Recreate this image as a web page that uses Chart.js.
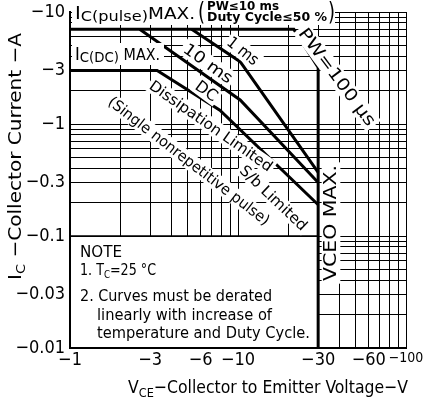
<!DOCTYPE html>
<html>
<head>
<meta charset="utf-8">
<script src="https://cdn.jsdelivr.net/npm/chart.js@4/dist/chart.umd.min.js"></script>
<style>
  html, body { margin: 0; padding: 0; background: #fff; }
  canvas { display: block; }
</style>
</head>
<body>
<canvas id="soa" width="423" height="401"></canvas>
<script>
// Safe operating area.
// Magnitudes are plotted, the axes print them with a minus sign.
const voltTicks = [1, 2, 3, 4, 5, 6, 7, 8, 9, 10, 20, 30, 40, 50, 60, 70, 80, 90, 100];
const voltLabels = [1, 3, 6, 10, 30, 60, 100];
const ampTicks = [0.01, 0.02, 0.03, 0.04, 0.05, 0.06, 0.07, 0.08, 0.09,
                  0.1, 0.2, 0.3, 0.4, 0.5, 0.6, 0.7, 0.8, 0.9,
                  1, 2, 3, 4, 5, 6, 7, 8, 9, 10];
const ampLabels = [0.01, 0.03, 0.1, 0.3, 1, 3, 10];

// IC(pulse) max, PW=100us and VCEO max as one outline
const pw100V = [1, 21.5, 30, 30];
const pw100A = [7, 7, 3.2, 0.01];
const ms1V = [5.3, 10.3, 30];
const ms1A = [7, 3.6, 0.37];
const ms10V = [2.6, 10.3, 30];
const ms10A = [7, 1.64, 0.3];
// IC(DC) max then DC curve
const dcV = [1, 3.3, 7.8, 30];
const dcA = [3, 3, 1.33, 0.19];

const FONT = "'DejaVu Sans Condensed', 'DejaVu Sans', sans-serif";

function pts(xs, ys) {
  return xs.map((v, i) => ({ x: v, y: ys[i] }));
}

function curve(xs, ys) {
  return {
    data: pts(xs, ys),
    showLine: true,
    borderColor: '#000',
    borderWidth: 3,
    pointRadius: 0,
    fill: false
  };
}

// text along a line from (x1,y1) to (x2,y2), white behind it
function slanted(ctx, text, x1, y1, x2, y2, size) {
  const len = Math.hypot(x2 - x1, y2 - y1);
  ctx.save();
  ctx.translate((x1 + x2) / 2, (y1 + y2) / 2);
  ctx.rotate(Math.atan2(y2 - y1, x2 - x1));
  ctx.font = size + 'px ' + FONT;
  const w = ctx.measureText(text).width;
  ctx.scale(len / w, 1);
  ctx.fillStyle = '#fff';
  ctx.fillRect(-w / 2 - 2, -size * 0.55, w + 4, size * 1.1);
  ctx.fillStyle = '#000';
  ctx.textAlign = 'center';
  ctx.textBaseline = 'middle';
  ctx.fillText(text, 0, 1);
  ctx.restore();
}

// runs of text with subscripts, fitted into a width
function runs(ctx, parts, width) {
  let w = 0;
  parts.forEach(p => { ctx.font = (p.b ? 'bold ' : '') + p.s + 'px ' + FONT; w += ctx.measureText(p.t).width; });
  ctx.save();
  if (width) ctx.scale(width / w, 1);
  let cx = 0;
  ctx.fillStyle = '#000';
  ctx.textAlign = 'left';
  ctx.textBaseline = 'alphabetic';
  parts.forEach(p => {
    ctx.font = (p.b ? 'bold ' : '') + p.s + 'px ' + FONT;
    ctx.fillText(p.t, cx, p.dy || 0);
    cx += ctx.measureText(p.t).width;
  });
  ctx.restore();
}

function at(ctx, x, y, parts, width) {
  ctx.save();
  ctx.translate(x, y);
  runs(ctx, parts, width);
  ctx.restore();
}

const notes = {
  id: 'notes',
  beforeDatasetsDraw(chart) {
    const { ctx, scales: { x, y } } = chart;
    const l = x.getPixelForValue(1), r = x.getPixelForValue(30);
    const t = y.getPixelForValue(0.1), b = y.getPixelForValue(0.01);
    ctx.save();
    ctx.fillStyle = '#fff';
    ctx.fillRect(l + 1, t + 1, r - l - 1, b - t - 2);
    ctx.strokeStyle = '#000';
    ctx.lineWidth = 1.5;
    ctx.strokeRect(l, t, r - l, b - t);
    at(ctx, 80, 257, [{ t: 'NOTE', s: 16 }], 42);
    at(ctx, 80, 275, [{ t: '1. T', s: 16 }, { t: 'C', s: 11, dy: 3 }, { t: '=25 \u00b0C', s: 16 }], 76);
    at(ctx, 80, 301, [{ t: '2. Curves must be derated', s: 16 }], 192);
    at(ctx, 97, 320, [{ t: 'linearly with increase of', s: 16 }], 175);
    at(ctx, 97, 338, [{ t: 'temperature and Duty Cycle.', s: 16 }], 213);
    ctx.restore();
  },
  afterDatasetsDraw(chart) {
    const { ctx } = chart;
    ctx.save();
    // top label block
    ctx.fillStyle = '#fff';
    ctx.fillRect(72, 0, 263, 25);
    ctx.fillRect(72, 43, 92, 22);
    at(ctx, 75, 19, [{ t: 'I', s: 17 }, { t: 'C(pulse)', s: 14, dy: 2 }, { t: 'MAX.', s: 16 }], 120);
    ctx.fillStyle = '#000';
    ctx.save();
    ctx.translate(198, 20);
    ctx.scale(1, 1.25);
    ctx.font = '20px ' + FONT;
    ctx.fillText('(', 0, 0);
    ctx.fillText(')', 130, 0);
    ctx.restore();
    at(ctx, 207, 10, [{ t: 'PW\u226410 ms', s: 12, b: true }], 72);
    at(ctx, 207, 21, [{ t: 'Duty Cycle\u226450 %', s: 12, b: true }], 120);
    at(ctx, 75, 60, [{ t: 'I', s: 17 }, { t: 'C(DC)', s: 14, dy: 2 }, { t: ' MAX.', s: 15 }], 85);

    slanted(ctx, '1 ms', 229, 40, 257, 62, 16);
    slanted(ctx, '10 ms', 185, 47, 231, 80, 16);
    slanted(ctx, 'DC', 197, 84, 216, 98, 16);
    slanted(ctx, 'Dissipation Limited', 151, 84, 271, 168, 15);
    slanted(ctx, '(Single nonrepetitive pulse)', 110, 100, 268, 222, 15);
    slanted(ctx, 'S/b Limited', 242, 168, 305, 228, 15);
    slanted(ctx, 'PW=100 \u00b5s', 302, 30, 372, 124, 17);
    slanted(ctx, 'VCEO MAX.', 331, 281, 331, 165, 17);
    ctx.restore();
  },
  afterDraw(chart) {
    const { ctx } = chart;
    ctx.save();
    ctx.translate(21, 280);
    ctx.rotate(-Math.PI / 2);
    runs(ctx, [{ t: 'I', s: 18 }, { t: 'C', s: 13, dy: 4 }, { t: ' \u2212Collector Current \u2212A', s: 18 }], 247);
    ctx.restore();
    at(ctx, 128, 393, [{ t: 'V', s: 18 }, { t: 'CE', s: 13, dy: 4 }, { t: '\u2212Collector to Emitter Voltage\u2212V', s: 18 }], 280);
  }
};

new Chart(document.getElementById('soa'), {
  type: 'scatter',
  data: {
    datasets: [
      curve(pw100V, pw100A),
      curve(ms1V, ms1A),
      curve(ms10V, ms10A),
      curve(dcV, dcA)
    ]
  },
  options: {
    responsive: false,
    animation: false,
    devicePixelRatio: 1,
    layout: { padding: { top: 12, right: 17, left: 0, bottom: 0 } },
    plugins: { legend: { display: false }, tooltip: { enabled: false } },
    scales: {
      x: {
        type: 'logarithmic',
        min: 1,
        max: 100,
        afterBuildTicks: s => { s.ticks = voltTicks.map(v => ({ value: v })); },
        afterFit: s => { s.height = 53; s.paddingLeft = 0; s.paddingRight = 0; },
        grid: { color: '#000', lineWidth: 1, drawTicks: false },
        border: { display: true, color: '#000', width: 2 },
        ticks: {
          autoSkip: false,
          maxRotation: 0,
          padding: 2,
          color: '#000',
          font: c => ({ family: FONT, size: c.tick && c.tick.value === 100 ? 14 : 18 }),
          callback: v => voltLabels.includes(v) ? '\u2212' + v : ''
        }
      },
      y: {
        type: 'logarithmic',
        min: 0.01,
        max: 10,
        afterBuildTicks: s => { s.ticks = ampTicks.map(v => ({ value: v })); },
        afterFit: s => { s.width = 70; s.paddingTop = 0; s.paddingBottom = 0; },
        grid: { color: '#000', lineWidth: 1, drawTicks: false },
        border: { display: true, color: '#000', width: 2 },
        ticks: {
          autoSkip: false,
          padding: 5,
          color: '#000',
          font: { family: FONT, size: 18 },
          callback: v => ampLabels.includes(v) ? '\u2212' + v : ''
        }
      }
    }
  },
  plugins: [notes]
});
</script>
</body>
</html>
